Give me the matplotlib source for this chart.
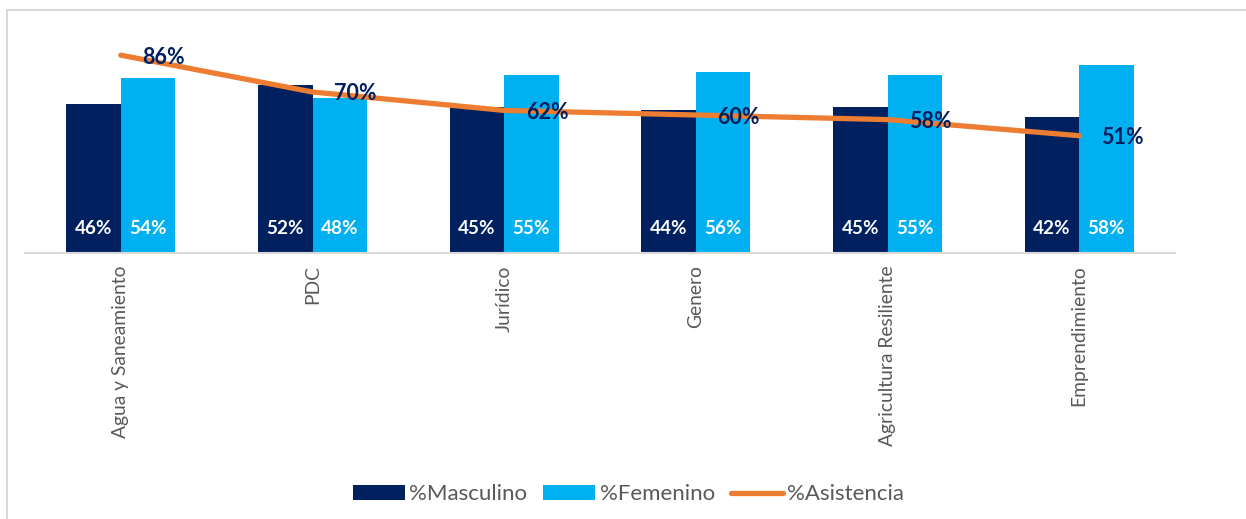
import matplotlib.pyplot as plt
import matplotlib
from matplotlib.patches import Rectangle
import numpy as np

matplotlib.rc('font', family=['Lato', 'DejaVu Sans'])

# === データ ===
categorias = ['Agua y Saneamiento', 'PDC', 'Jurídico', 'Genero',
              'Agricultura Resiliente', 'Emprendimiento']
masculino = [0.46, 0.52, 0.45, 0.44, 0.45, 0.42]
femenino = [0.54, 0.48, 0.55, 0.56, 0.55, 0.58]
asistencia = [0.86, 0.70, 0.62, 0.60, 0.58, 0.51]

c_masc = '#002060'
c_fem = '#00B0F0'
c_line = '#ED7D31'
c_gris = '#595959'

fig = plt.figure(figsize=(12.46, 5.19), dpi=100)
# marco gris del gráfico
fig.patches.append(Rectangle((7 / 1246, -0.1), 1.2, 1 - 10 / 519 + 0.1,
                             transform=fig.transFigure, fill=False,
                             edgecolor='#D9D9D9', linewidth=1.5))

ax = fig.add_axes([25 / 1246, 1 - 253 / 519, 1150 / 1246, 230 / 519])
x = np.arange(len(categorias))
w = 0.285

b1 = ax.bar(x - w / 2, masculino, w, color=c_masc, label='%Masculino')
b2 = ax.bar(x + w / 2, femenino, w, color=c_fem, label='%Femenino')

# etiquetas blancas dentro de las barras
for bars, vals in ((b1, masculino), (b2, femenino)):
    for bar, v in zip(bars, vals):
        ax.text(bar.get_x() + bar.get_width() / 2, 0.077, f'{v:.0%}',
                ha='center', va='center', color='white',
                fontsize=13.6, fontweight='bold')

ax.set_xlim(-0.5, len(categorias) - 0.5)
ax.set_ylim(0, 0.71)
ax.set_yticks([])
for s in ['top', 'right', 'left']:
    ax.spines[s].set_visible(False)
ax.spines['bottom'].set_color('#D9D9D9')
ax.spines['bottom'].set_linewidth(1.5)
ax.set_xticks(x)
ax.set_xticklabels(categorias, rotation=90, color=c_gris, fontsize=13.9)
ax.tick_params(axis='x', length=0, pad=9)

# === eje secundario para la asistencia ===
ax2 = ax.twinx()
ln, = ax2.plot(x, asistencia, color=c_line, linewidth=3.8,
               solid_capstyle='round', label='%Asistencia')
ax2.set_ylim(0, 1.0)
ax2.set_yticks([])
for s in ax2.spines.values():
    s.set_visible(False)

for xi, v in zip(x, asistencia):
    ax2.annotate(f'{v:.0%}', (xi, v), xytext=(43, -2),
                 textcoords='offset pixels', ha='center', va='center',
                 color=c_masc, fontsize=15.5, fontweight='bold')

fig.legend(handles=[b1, b2, ln], loc='center', bbox_to_anchor=(0.5044, 0.048),
           ncol=3, frameon=False, fontsize=16, labelcolor=c_gris,
           handlelength=2.34, handleheight=0.63, handletextpad=0.2,
           columnspacing=0.72)

plt.savefig('out.png', dpi=100)
